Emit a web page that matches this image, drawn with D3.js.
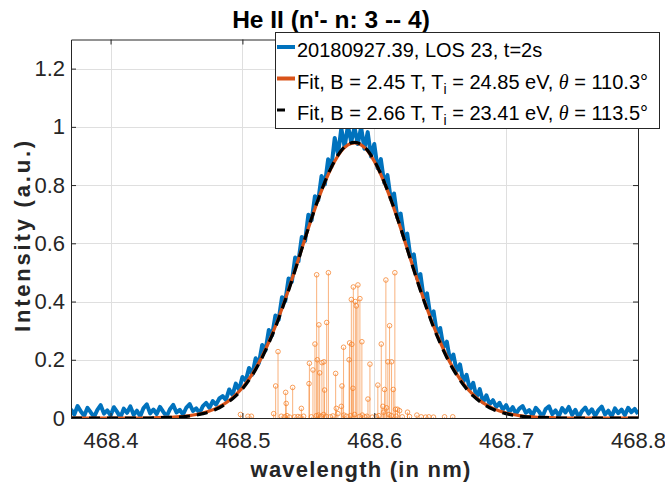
<!DOCTYPE html>
<html><head><meta charset="utf-8">
<script src="https://cdn.jsdelivr.net/npm/d3@7"></script>
<style>body{margin:0;background:#fff}svg{display:block;font-family:"Liberation Sans",Arial,Helvetica,sans-serif}</style>
</head><body><svg id="c" width="665" height="485"></svg>
<script>
// ---------- data ----------
const title = "He II (n'- n: 3 -- 4)";
const xLabel = "wavelength (in nm)";
const yLabel = "Intensity (a.u.)";
const xTicks = [468.4, 468.5, 468.6, 468.7, 468.8];
const xTickLabels = ["468.4", "468.5", "468.6", "468.7", "468.8"];
const yTicks = [0, 0.2, 0.4, 0.6, 0.8, 1, 1.2];
const yTickLabels = ["0", "0.2", "0.4", "0.6", "0.8", "1", "1.2"];

// measured spectrum (sampled every 0.0025 nm from 468.37 nm)
const specStart = 468.37, specStep = 0.0025;
const spectrum = [
 0.030,0.012,0.041,0.022,0.008,0.035,0.019,0.004,0.028,0.044,0.015,0.026,0.009,0.037,0.021,0.002,0.032,0.018,0.040,0.011,0.025,0.006,0.034,0.047,0.016,0.029,
 0.014,0.038,0.021,0.005,0.030,0.045,0.019,0.028,0.012,0.036,0.048,0.024,0.033,0.017,0.041,0.052,0.035,0.058,0.046,0.067,
 0.075,0.062,0.098,0.079,0.118,0.097,0.141,0.128,0.172,0.149,0.205,0.188,0.251,0.232,0.302,0.284,0.352,0.338,0.415,0.402,
 0.479,0.468,0.551,0.538,0.622,0.608,0.698,0.679,0.762,0.748,0.831,0.802,0.889,0.862,0.962,0.905,0.995,0.931,1.004,0.948,
 0.998,
 0.941,0.999,0.925,0.982,0.898,0.941,0.858,0.889,0.808,0.834,0.752,0.771,0.688,0.702,0.622,0.633,0.551,0.562,0.479,0.494,
 0.412,0.428,0.351,0.366,0.292,0.309,0.243,0.262,0.197,0.218,0.161,0.184,0.124,0.148,0.098,0.121,0.071,0.099,0.054,0.078,
 0.047,0.061,0.038,0.052,0.029,0.044,0.021,0.037,0.015,0.032,0.041,0.018,0.027,0.009,0.035,0.022,0.004,0.031,0.040,0.013,
 0.026,0.007,0.034,0.019,0.038,0.011,0.028,0.003,0.024,0.036,0.015,0.030,0.008,0.027,0.039,0.012,0.025,0.005,0.033,0.017,
 0.029,0.010,0.035,0.020,0.031,0.014
];

// fits (sampled every 0.005 nm from 468.37 nm)
const fitStart = 468.37, fitStep = 0.005;
const fitOrange = [
 0,0,0,0,0,0,0,0,0,0,0,0,0,
 0.001,0.002,0.002,0.004,0.005,0.008,0.012,0.017,0.024,0.033,0.045,0.060,0.080,0.104,0.134,0.170,0.212,0.261,0.315,0.376,
 0.441,0.510,0.581,0.652,0.719,0.781,0.836,0.882,0.917,0.938,
 0.945,
 0.938,0.917,0.882,0.836,0.781,0.719,0.652,0.581,0.510,0.441,0.376,0.315,0.261,0.212,0.170,0.134,0.104,0.080,0.060,0.045,
 0.033,0.024,0.017,0.012,0.008,0.005,0.004,0.002,0.002,0.001,
 0,0,0,0,0,0,0,0,0,0,0,0,0
];
const fitBlack = [
 0,0,0,0,0,0,0,0,0,0,0,0,0,
 0.001,0.001,0.002,0.003,0.004,0.007,0.010,0.015,0.021,0.030,0.042,0.057,0.076,0.100,0.130,0.166,0.208,0.257,0.311,0.373,
 0.438,0.508,0.580,0.652,0.720,0.782,0.838,0.884,0.919,0.940,
 0.947,
 0.940,0.919,0.884,0.838,0.782,0.720,0.652,0.580,0.508,0.438,0.373,0.311,0.257,0.208,0.166,0.130,0.100,0.076,0.057,0.042,
 0.030,0.021,0.015,0.010,0.007,0.004,0.003,0.002,0.001,0.001,
 0,0,0,0,0,0,0,0,0,0,0,0,0
];

// Zeeman / fine-structure components (stems)
const stemLambda = [
 468.5252,468.5270,468.5328,468.5332,468.5381,468.5447,468.5505,468.5508,468.5535,468.5550,468.5563,468.5568,468.5580,468.5586,
 468.5603,468.5618,468.5623,468.5639,468.5652,468.5707,468.5712,468.5750,468.5755,468.5767,468.5809,468.5813,468.5826,468.5830,
 468.5838,468.5841,468.5856,468.5864,468.5876,468.5891,468.5906,468.5952,468.5967,468.6027,468.6053,468.6065,468.6078,468.6088,
 468.6093,468.6103,468.6116,468.6131,468.6144,468.6156,468.6161,468.6176,468.6192,468.6252,
 468.4985,468.5042,468.5068,468.5237,468.5295,468.5320,468.5338,468.5358,468.5396,468.5421,468.5439,468.5464,468.5523,468.5561,
 468.5577,468.5598,468.5616,468.5636,468.5667,468.5686,468.5724,468.5770,468.5788,468.5818,468.5851,468.5889,468.5909,468.5927,
 468.5944,468.5985,468.6015,468.6035,468.6070,468.6111,468.6129,468.6167,468.6212,468.6267,468.6323,468.6356,468.6389,468.6414,
 468.6449,468.6533,468.6595
];
const stemValue = [
 0.110,0.228,0.088,0.050,0.105,0.033,0.118,0.188,0.165,0.254,0.492,0.200,0.320,0.155,
 0.190,0.193,0.096,0.328,0.499,0.153,0.033,0.040,0.110,0.243,0.200,0.258,0.407,0.253,
 0.102,0.450,0.400,0.385,0.457,0.410,0.262,0.065,0.185,0.113,0.254,0.040,0.098,0.474,
 0.035,0.193,0.317,0.193,0.098,0.499,0.030,0.030,0.025,0.020,
 0.012,0.006,0.006,0.015,0.006,0.004,0.008,0.003,0.004,0.005,0.003,0.006,0.004,0.008,
 0.010,0.006,0.012,0.005,0.004,0.007,0.015,0.010,0.006,0.008,0.012,0.005,0.010,0.004,
 0.006,0.003,0.005,0.008,0.020,0.012,0.008,0.006,0.004,0.005,0.010,0.004,0.003,0.004,
 0.003,0.004,0.004
];

const legendLabels = [
  {color: "#0072BD", dash: null, parts: ["20180927.39, LOS 23, t=2s"]},
  {color: "#D95319", dash: null, parts: ["Fit, B = 2.45 T, T", "i", " = 24.85 eV, ", "\u03B8", " = 110.3\u00B0"]},
  {color: "#000000", dash: "8,20", parts: ["Fit, B = 2.66 T, T", "i", " = 23.41 eV, ", "\u03B8", " = 113.5\u00B0"]}
];

// ---------- drawing ----------
const svg = d3.select("#c");
const L = 71, R = 638, T = 39.5, B = 418;
const x = d3.scaleLinear().domain([468.37, 468.8]).range([L, R]);
const y = d3.scaleLinear().domain([0, 1.3]).range([B, T]);

svg.append("rect").attr("x", L).attr("y", T).attr("width", R - L).attr("height", B - T).attr("fill", "#fff");

// grid
const grid = svg.append("g").attr("stroke", "#dfdfdf").attr("stroke-width", 1);
grid.selectAll(".gx").data(xTicks).join("line")
  .attr("x1", d => Math.round(x(d)) + 0.5).attr("x2", d => Math.round(x(d)) + 0.5)
  .attr("y1", T).attr("y2", B);
grid.selectAll(".gy").data(yTicks).join("line")
  .attr("x1", L).attr("x2", R)
  .attr("y1", d => Math.round(y(d)) + 0.5).attr("y2", d => Math.round(y(d)) + 0.5);

svg.append("clipPath").attr("id", "clip").append("rect")
  .attr("x", L).attr("y", T).attr("width", R - L).attr("height", B - T);
const plot = svg.append("g").attr("clip-path", "url(#clip)");

// measured spectrum
const specPts = spectrum.map((v, i) => [specStart + i * specStep, v]);
plot.append("path").datum(specPts)
  .attr("fill", "none").attr("stroke", "#0072BD").attr("stroke-width", 4).attr("stroke-linejoin", "round")
  .attr("d", d3.line().x(d => x(d[0])).y(d => y(d[1])));

// stems
const stems = plot.append("g");
const stemData = stemLambda.map((l, i) => ({l, v: stemValue[i]}));
stems.selectAll("line").data(stemData).join("line")
  .attr("x1", d => x(d.l)).attr("x2", d => x(d.l))
  .attr("y1", y(0)).attr("y2", d => y(d.v))
  .attr("stroke", "#F57F26").attr("stroke-opacity", 0.6).attr("stroke-width", 1);
stems.selectAll("circle").data(stemData).join("circle")
  .attr("cx", d => x(d.l)).attr("cy", d => y(d.v)).attr("r", 2.3)
  .attr("fill", "none").attr("stroke", "#F57F26").attr("stroke-opacity", 0.75).attr("stroke-width", 1);

// fits
const fitLine = d3.line().x(d => x(d[0])).y(d => y(d[1])).curve(d3.curveMonotoneX);
plot.append("path").datum(fitOrange.map((v, i) => [fitStart + i * fitStep, v]))
  .attr("fill", "none").attr("stroke", "#D95319").attr("stroke-width", 3.2).attr("d", fitLine);
plot.append("path").datum(fitBlack.map((v, i) => [fitStart + i * fitStep, v]))
  .attr("fill", "none").attr("stroke", "#000").attr("stroke-width", 3.2)
  .attr("stroke-dasharray", "11,7").attr("d", fitLine);

// axes
const axCol = "#262626";
function styleAxis(g) {
  g.selectAll("path.domain").attr("stroke", axCol).attr("stroke-width", 1);
  g.selectAll(".tick line").attr("stroke", axCol);
  g.selectAll("text").attr("fill", axCol).attr("font-size", 22)
    .attr("font-family", '"Liberation Sans", Arial, sans-serif');
}
const xa = svg.append("g").attr("transform", `translate(0,${B})`)
  .call(d3.axisBottom(x).tickValues(xTicks).tickFormat((d, i) => xTickLabels[i]).tickSizeInner(-5).tickSizeOuter(0).tickPadding(14));
styleAxis(xa);
const xt = svg.append("g").attr("transform", `translate(0,${T})`)
  .call(d3.axisTop(x).tickValues(xTicks).tickFormat("").tickSizeInner(-5).tickSizeOuter(0));
styleAxis(xt);
const ya = svg.append("g").attr("transform", `translate(${L},0)`)
  .call(d3.axisLeft(y).tickValues(yTicks).tickFormat((d, i) => yTickLabels[i]).tickSizeInner(-5).tickSizeOuter(0).tickPadding(6));
styleAxis(ya);
const yr = svg.append("g").attr("transform", `translate(${R},0)`)
  .call(d3.axisRight(y).tickValues(yTicks).tickFormat("").tickSizeInner(-5).tickSizeOuter(0));
styleAxis(yr);

// labels
svg.append("text").attr("x", 331).attr("y", 28).attr("text-anchor", "middle")
  .attr("font-weight", "bold").attr("font-size", 24.5).attr("fill", "#000").text(title);
svg.append("text").attr("x", 361).attr("y", 477).attr("text-anchor", "middle")
  .attr("font-weight", "bold").attr("font-size", 22).attr("letter-spacing", 1.2).attr("fill", "#262626").text(xLabel);
svg.append("text").attr("transform", `translate(30,235) rotate(-90)`).attr("text-anchor", "middle")
  .attr("font-weight", "bold").attr("font-size", 22).attr("letter-spacing", 2.8).attr("fill", "#262626").text(yLabel);

// legend
const lg = svg.append("g");
lg.append("rect").attr("x", 275.5).attr("y", 32.5).attr("width", 384).attr("height", 96)
  .attr("fill", "#fff").attr("stroke", axCol).attr("stroke-width", 1);
legendLabels.forEach((it, i) => {
  const base = 57 + i * 31.5;
  lg.append("line").attr("x1", 277).attr("x2", 295).attr("y1", base - 10).attr("y2", base - 10)
    .attr("stroke", it.color).attr("stroke-width", it.dash ? 3 : 4)
    .attr("stroke-dasharray", it.dash);
  const t = lg.append("text").attr("x", 297).attr("y", base).attr("font-size", 20).attr("fill", "#000");
  if (it.parts.length === 1) { t.text(it.parts[0]); return; }
  t.append("tspan").text(it.parts[0]);
  t.append("tspan").attr("font-size", 14).attr("dy", 5).text(it.parts[1]);
  t.append("tspan").attr("dy", -5).text(it.parts[2]);
  t.append("tspan").attr("font-family", '"Liberation Serif","Times New Roman",serif').attr("font-style", "italic").text(it.parts[3]);
  t.append("tspan").text(it.parts[4]);
});
</script></body></html>
